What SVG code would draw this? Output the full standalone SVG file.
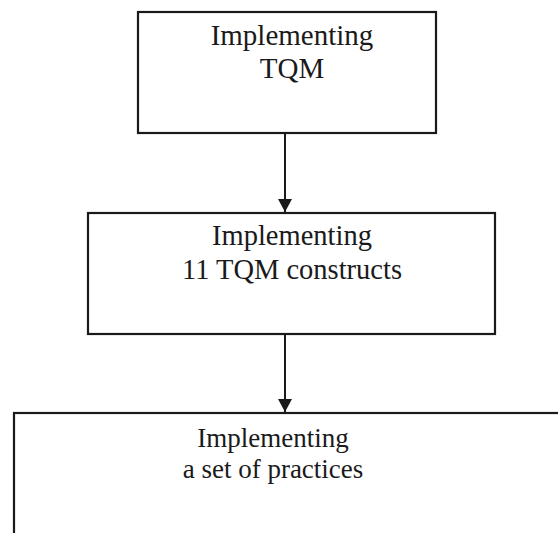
<svg xmlns="http://www.w3.org/2000/svg" width="558" height="533" viewBox="0 0 558 533">
<style>
.box{fill:#fff;stroke:#1a1a1a;stroke-width:2.2}
.t{font-family:"Liberation Serif","Times New Roman",serif;fill:#1a1a1a;text-anchor:middle}
.c{stroke:#1a1a1a;stroke-width:2;fill:none}
</style>
<defs>
<marker id="ah" markerWidth="13" markerHeight="14" refX="13" refY="7" orient="auto" markerUnits="userSpaceOnUse">
<path d="M0,0 L13,7 L0,14 Z" fill="#1a1a1a"/>
</marker>
</defs>
<rect width="558" height="533" fill="#fff"/>
<g id="node1">
<rect class="box" x="138" y="12" width="298" height="121"/>
<text class="t" x="292" y="45" font-size="29">Implementing</text>
<text class="t" x="292" y="78" font-size="29">TQM</text>
</g>
<g id="node2">
<rect class="box" x="88" y="213" width="407" height="121"/>
<text class="t" x="292" y="245" font-size="28.5">Implementing</text>
<text class="t" x="292" y="279" font-size="28.5">11 TQM constructs</text>
</g>
<g id="node3">
<rect class="box" x="14" y="413" width="560" height="140"/>
<text class="t" x="273" y="447" font-size="27">Implementing</text>
<text class="t" x="273" y="478" font-size="27">a set of practices</text>
</g>
<g id="connectors">
<line class="c" x1="285" y1="133" x2="285" y2="212" marker-end="url(#ah)"/>
<line class="c" x1="285" y1="334" x2="285" y2="412" marker-end="url(#ah)"/>
</g>
</svg>
